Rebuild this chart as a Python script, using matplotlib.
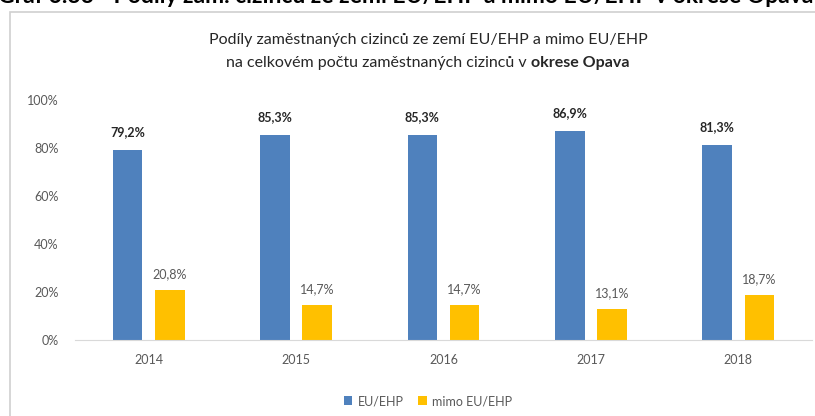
import matplotlib.pyplot as plt
import numpy as np
from matplotlib.patches import Rectangle

roky = ['2014', '2015', '2016', '2017', '2018']
eu_ehp = [79.2, 85.3, 85.3, 86.9, 81.3]
mimo_eu = [20.8, 14.7, 14.7, 13.1, 18.7]

modra = '#4F81BD'
zluta = '#FFC000'
seda = '#595959'

plt.rcParams['font.family'] = ['Lato', 'DejaVu Sans']

fig = plt.figure(figsize=(8.15, 4.16), dpi=100)

# ramecek grafu (presahuje doprava a dolu)
fig.patches.append(Rectangle((10 / 815, -0.05), 1.0, 1 - 12 / 416 + 0.05,
                             transform=fig.transFigure, fill=False,
                             edgecolor='#d0d0d0', lw=1.2))

# orezany popisek nad grafem (v originale je videt jen spodni cast)
fig.text(-0.003, 1.0 + 0.010, 'Graf 6.33 - Podíly zam. cizinců ze zemí EU/EHP a mimo EU/EHP v okrese Opava',
         fontsize=16.5, fontweight='bold', color='black', ha='left', va='center')

ax = fig.add_axes([75 / 815, 1 - 340 / 416, 737 / 815, 240 / 416])
x = np.arange(len(roky))
w = 0.2
b1 = ax.bar(x - 0.143, eu_ehp, w, color=modra, label='EU/EHP')
b2 = ax.bar(x + 0.143, mimo_eu, w, color=zluta, label='mimo EU/EHP')

for xi, v in zip(x, eu_ehp):
    ax.text(xi - 0.143, v + 5, f'{v:.1f}%'.replace('.', ','), ha='center', va='bottom',
            fontsize=9, fontweight='bold', color='#262626')
for xi, v in zip(x, mimo_eu):
    ax.text(xi + 0.143, v + 4, f'{v:.1f}%'.replace('.', ','), ha='center', va='bottom',
            fontsize=9, color=seda)

ax.set_xlim(-0.5, 4.5)
ax.set_ylim(0, 100)
ax.set_yticks(range(0, 101, 20))
ax.set_yticklabels([f'{t}%' for t in range(0, 101, 20)])
ax.set_xticks(x)
ax.set_xticklabels(roky)
ax.tick_params(axis='both', length=0, labelsize=9, labelcolor=seda)
ax.tick_params(axis='y', pad=12)
ax.tick_params(axis='x', pad=10)
for s in ['top', 'right', 'left']:
    ax.spines[s].set_visible(False)
ax.spines['bottom'].set_color('#d9d9d9')

fig.text(428 / 815, 1 - 40 / 416, 'Podíly zaměstnaných cizinců ze zemí EU/EHP a mimo EU/EHP',
         ha='center', va='center', fontsize=11.5, color='#262626')

# druhy radek: normalni cast + tucna cast, spolecne vycentrovane
r = fig.canvas.get_renderer()
t1 = fig.text(0, 1 - 63 / 416, 'na celkovém počtu zaměstnaných cizinců v ',
              ha='left', va='center', fontsize=11.5, color='#262626')
t2 = fig.text(0, 1 - 63 / 416, 'okrese Opava',
              ha='left', va='center', fontsize=11.5, color='#262626', fontweight='bold')
w1 = t1.get_window_extent(r).width
w2 = t2.get_window_extent(r).width
start = 428 - (w1 + w2) / 2
t1.set_x(start / 815)
t2.set_x((start + w1) / 815)

fig.legend(handles=[b1, b2], loc='center', bbox_to_anchor=(428 / 815, 1 - 401 / 416),
           ncol=2, frameon=False, fontsize=9, labelcolor=seda, handlelength=0.7,
           handleheight=0.7, handletextpad=0.4, columnspacing=1.2)

fig.savefig('out.png', dpi=100)
